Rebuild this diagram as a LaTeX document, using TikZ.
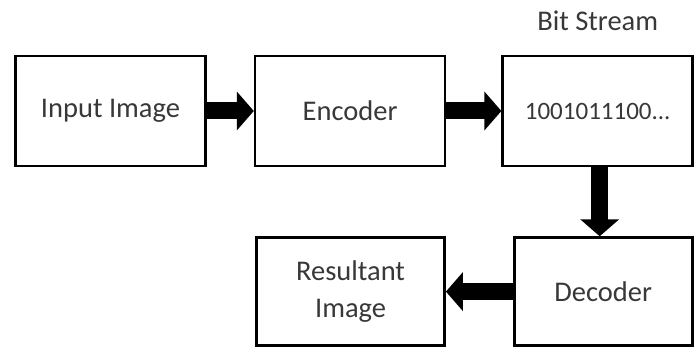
\documentclass[tikz,border=0pt]{standalone}
\usepackage{fontspec}
\setmainfont{Carlito}
\usepackage{tikz}
\usetikzlibrary{arrows.meta}
\usetikzlibrary{positioning}

\begin{document}
\begin{tikzpicture}[x=1pt,y=-1pt,node distance=50pt]
	\tikzstyle{block}=[draw=black, line width=2.6pt, minimum width=190pt, minimum height=110pt, text=black!78, font=\fontsize{28.5}{37}\selectfont, align=center]
	\tikzstyle{fatarrow}=[line width=17pt, -{Triangle[length=17pt,width=38pt]}]
	\useasboundingbox (0,0) rectangle (694,347);
		\node[block] (inp) at (110.5,111) {Input Image};
		\node[block] (enc) [right=47pt of inp] {Encoder};
		\node[block, font=\fontsize{25}{30}\selectfont] (bits) [right=55pt of enc] {1001011100...};
		\node[block, minimum width=178pt, minimum height=108pt] (dec) [below=69pt of bits, xshift=5.5pt] {Decoder};
		\node[block, minimum width=188pt, minimum height=108pt] (res) [left=67pt of dec] {Resultant\\Image};
		\node[text=black!78, font=\fontsize{28.5}{37}\selectfont] (lbl) [above=20pt of bits] {Bit Stream};

		\draw[fatarrow] (inp) -- (enc);
		\draw[fatarrow] (enc) -- (bits);
		\draw[fatarrow] ([xshift=2pt]bits.south) -- ([xshift=2pt]bits.south |- dec.north);
		\draw[fatarrow] (dec) -- (res);
\end{tikzpicture}
\end{document}
